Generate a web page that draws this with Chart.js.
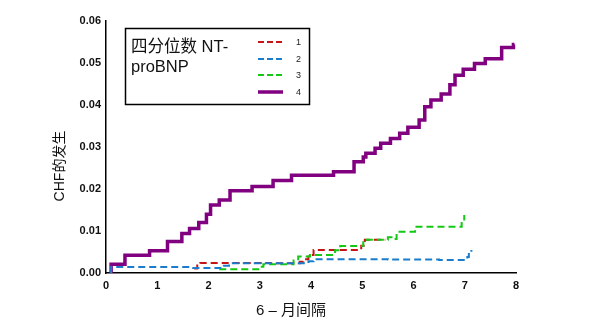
<!DOCTYPE html>
<html>
<head>
<meta charset="utf-8">
<script src="https://cdn.jsdelivr.net/npm/chart.js@4/dist/chart.umd.min.js"></script>
<style>
  html, body { margin: 0; padding: 0; background: #fff; }
  canvas { display: block; }
</style>
</head>
<body>
<canvas id="c" width="600" height="329"></canvas>
<script>
// Cumulative incidence of CHF by NT-proBNP quartile (months in 6-month intervals)
const legendTitle = ['四分位数 NT-', 'proBNP'];
const seriesLabels = ['1', '2', '3', '4'];
const xTitle = '6 – 月间隔';
const yTitle = 'CHF的发生';

// Step points: [time, cumulative incidence]
const q1 = [[1.72,0.0011],[1.78,0.0018],[1.84,0.0024],[3.2,0.0023],[3.78,0.0027],[3.85,0.0033],[3.95,0.0043],[4.05,0.0055],[4.98,0.0065],[5.05,0.0079],[5.45,0.0079]];
const q2 = [[0.1,0],[0.1,0.0014],[1.7,0.0012],[2.3,0.0017],[2.4,0.0023],[3.95,0.0028],[4.05,0.0033],[5.5,0.0032],[6.5,0.0031],[7.05,0.0038],[7.08,0.0045],[7.13,0.0055]];
const q3 = [[2.21,0.0009],[3.0,0.0015],[3.07,0.0021],[3.66,0.0030],[3.75,0.0039],[3.98,0.0043],[4.47,0.0054],[4.57,0.0064],[5.02,0.0079],[5.5,0.0085],[5.57,0.0081],[5.67,0.0098],[6.03,0.0110],[6.94,0.0122],[6.99,0.0138]];
const q4 = [[0.1,0],[0.1,0.0021],[0.37,0.0042],[0.85,0.0053],[1.2,0.0075],[1.48,0.0094],[1.63,0.0106],[1.81,0.0120],[1.96,0.0140],[2.04,0.0162],[2.21,0.0174],[2.42,0.0196],[2.85,0.0206],[3.26,0.0220],[3.62,0.0233],[4.44,0.0241],[4.84,0.0265],[5.02,0.0276],[5.07,0.0285],[5.25,0.0297],[5.36,0.0309],[5.55,0.0320],[5.73,0.0333],[5.89,0.0347],[6.11,0.0364],[6.22,0.0396],[6.34,0.0412],[6.54,0.0426],[6.71,0.0448],[6.81,0.0471],[6.97,0.0485],[7.19,0.0499],[7.40,0.0510],[7.72,0.0537],[7.95,0.0544],[7.97,0.0544]];
const xTicks = [0,1,2,3,4,5,6,7,8];
const yTicks = [0,0.01,0.02,0.03,0.04,0.05,0.06];

const FONT = '"Liberation Sans", Arial, "Noto Sans CJK SC", sans-serif';
const toPts = arr => arr.map(([x, y]) => ({ x, y }));

const styles = [
  { color: '#c81414', dash: [7, 4], width: 2, order: 3 },
  { color: '#1a7ccc', dash: [7, 4], width: 2, order: 1 },
  { color: '#14c814', dash: [7, 4], width: 2, order: 2 },
  { color: '#800080', dash: [], width: 3.5, order: 4 }
];
const series = [q1, q2, q3, q4];

// horizontal run to the next event time, then a vertical jump
const datasets = series.map((s, i) => ({
  label: seriesLabels[i],
  data: toPts(s),
  borderColor: styles[i].color,
  borderDash: styles[i].dash,
  borderWidth: styles[i].width,
  order: styles[i].order,
  stepped: 'before',
  pointRadius: 0,
  fill: false
}));

// Boxed legend with a two-line title and line samples, plus axis titles
const decorations = {
  id: 'decorations',
  afterDraw(chart) {
    const ctx = chart.ctx;
    ctx.save();
    ctx.strokeStyle = '#000';
    ctx.lineWidth = 1.5;
    ctx.strokeRect(125.5, 28.5, 184, 76);
    ctx.fillStyle = '#111';
    ctx.font = '16.5px ' + FONT;
    ctx.textBaseline = 'middle';
    ctx.textAlign = 'left';
    ctx.fillText(legendTitle[0], 131, 47);
    ctx.fillText(legendTitle[1], 131, 67);
    const rows = [42, 59, 75, 92];
    chart.data.datasets.forEach((ds, i) => {
      ctx.beginPath();
      ctx.strokeStyle = ds.borderColor;
      ctx.lineWidth = i === 3 ? 3.5 : 1.8;
      ctx.setLineDash(i === 3 ? [] : [6, 3]);
      ctx.moveTo(258, rows[i]);
      ctx.lineTo(283, rows[i]);
      ctx.stroke();
      ctx.setLineDash([]);
      ctx.fillStyle = '#222';
      ctx.font = '9px ' + FONT;
      ctx.fillText(ds.label, 296, rows[i] + 1);
    });
    ctx.fillStyle = '#111';
    ctx.font = '15px ' + FONT;
    ctx.textAlign = 'center';
    ctx.fillText(xTitle, 291, 311);
    ctx.translate(60, 166);
    ctx.rotate(-Math.PI / 2);
    ctx.font = '14px ' + FONT;
    ctx.fillText(yTitle, 0, 0);
    ctx.restore();
  }
};

new Chart(document.getElementById('c'), {
  type: 'line',
  data: { datasets },
  options: {
    responsive: false,
    animation: false,
    devicePixelRatio: 1,
    layout: { padding: { left: 0, top: 21, right: 84, bottom: 0 } },
    plugins: { legend: { display: false }, tooltip: { enabled: false } },
    scales: {
      x: {
        type: 'linear',
        min: 0, max: 8,
        afterFit: s => { s.height = 56; },
        afterBuildTicks: s => { s.ticks = xTicks.map(v => ({ value: v })); },
        grid: { display: false, drawTicks: false },
        border: { display: true, color: '#000', width: 1.5 },
        ticks: { padding: 6, color: '#111', font: { family: FONT, size: 11, weight: 'bold' } }
      },
      y: {
        type: 'linear',
        min: 0, max: 0.06,
        afterFit: s => { s.width = 106; },
        afterBuildTicks: s => { s.ticks = yTicks.map(v => ({ value: v })); },
        grid: { display: false, drawTicks: false },
        border: { display: true, color: '#000', width: 1.5 },
        ticks: { padding: 5, color: '#111', font: { family: FONT, size: 11, weight: 'bold' },
                 callback: v => v.toFixed(2) }
      }
    }
  },
  plugins: [decorations]
});
</script>
</body>
</html>
